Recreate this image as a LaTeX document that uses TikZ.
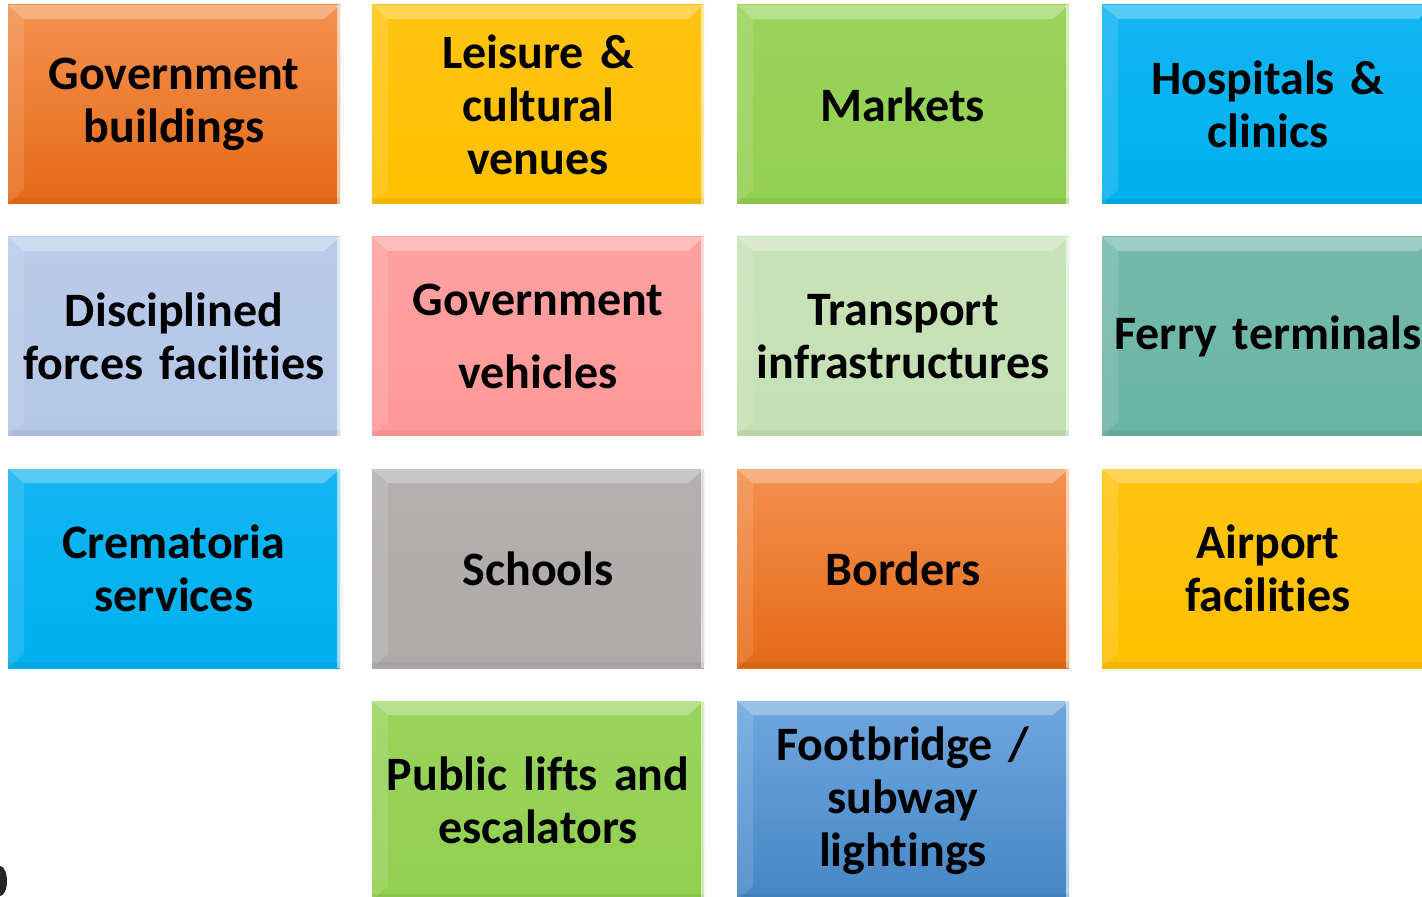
\documentclass[tikz,border=0pt]{standalone}
\usepackage{fontspec}
\setmainfont{Carlito}[Ligatures={NoCommon,NoRequired,NoContextual}, WordSpace=0.8, RawFeature={-liga;-clig;-calt;-rlig}]
\usetikzlibrary{calc, positioning}
\definecolor{tOrangeT}{HTML}{F4914F}
\definecolor{tOrangeB}{HTML}{E56A16}
\definecolor{tYellow}{HTML}{FFC000}
\definecolor{tGreen}{HTML}{92D050}
\definecolor{tBlue}{HTML}{00B0F0}
\definecolor{tSteel}{HTML}{B4C7E7}
\definecolor{tPink}{HTML}{FF9999}
\definecolor{tMint}{HTML}{C5E0B4}
\definecolor{tTeal}{HTML}{6AB5A5}
\definecolor{tGray}{HTML}{AEAAAA}
\definecolor{tSkyT}{HTML}{6FA7DF}
\definecolor{tSkyB}{HTML}{4586C6}
\def\tw{166pt}
\def\th{99.5pt}
\tikzset{
    tile/.style = {
        rectangle, minimum width=\tw, minimum height=\th, inner sep=2pt,
        align=center, text width=160pt,
        font=\fontsize{24}{26.5}\selectfont\bfseries,
        top color=#1!93!white, bottom color=#1,
        path picture={
            \fill[white, opacity=0.3] (path picture bounding box.north west) -- (path picture bounding box.north east)
                -- ++(-8pt,-7pt) -- ([xshift=8pt,yshift=-7pt]path picture bounding box.north west) -- cycle;
            \fill[white, opacity=0.12] (path picture bounding box.north west) -- ([xshift=8pt,yshift=-7pt]path picture bounding box.north west)
                -- ([xshift=8pt,yshift=7pt]path picture bounding box.south west) -- (path picture bounding box.south west) -- cycle;
            \fill[white, opacity=0.6] ([xshift=-1.5pt]path picture bounding box.north east) rectangle (path picture bounding box.south east);
            \fill[black, opacity=0.05] ([yshift=3pt]path picture bounding box.south west) rectangle (path picture bounding box.south east);
        }
    },
    tilegrad/.style 2 args = {
        tile=#2, top color=#1, bottom color=#2
    }
}

\begin{document}
\begin{tikzpicture}[x=0.5pt, y=-0.5pt]
    \useasboundingbox (0,0) rectangle (1422,897);
    \clip (0,0) rectangle (1422,897);
    % row 1
    \node[tilegrad={tOrangeT}{tOrangeB}] (govbuild) at (174,104.5) {Government\\buildings};
    \node[tile=tYellow] (leisure) at (538,104.5) {Leisure \&\\cultural\\venues};
    \node[tile=tGreen] (markets) at (903,104.5) {Markets};
    \node[tile=tBlue] (hospitals) at (1268,104.5) {Hospitals \&\\clinics};
    % row 2
    \node[tile=tSteel] (forces) at (174,336.5) {Disciplined\\forces facilities};
    \node[tile=tPink] (govveh) at (538,336.5) {Government\\[10pt]vehicles};
    \node[tile=tMint] (transport) at (903,336.5) {Transport\\infrastructures};
    \node[tile=tTeal] (ferry) at (1268,336.5) {Ferry terminals};
    % row 3
    \node[tile=tBlue] (cremat) at (174,568.5) {Crematoria\\services};
    \node[tile=tGray] (schools) at (538,568.5) {Schools};
    \node[tilegrad={tOrangeT}{tOrangeB}] (borders) at (903,568.5) {Borders};
    \node[tile=tYellow] (airport) at (1268,568.5) {Airport\\facilities};
    % row 4
    \node[tile=tGreen] (lifts) at (538,800.5) {Public lifts and\\escalators};
    \node[tilegrad={tSkyT}{tSkyB}] (footbr) at (903,800.5) {Footbridge /\\subway\\lightings};
    % stray mark bottom left
    \fill[black!85] (0,881) ellipse (7 and 15);
\end{tikzpicture}
\end{document}
